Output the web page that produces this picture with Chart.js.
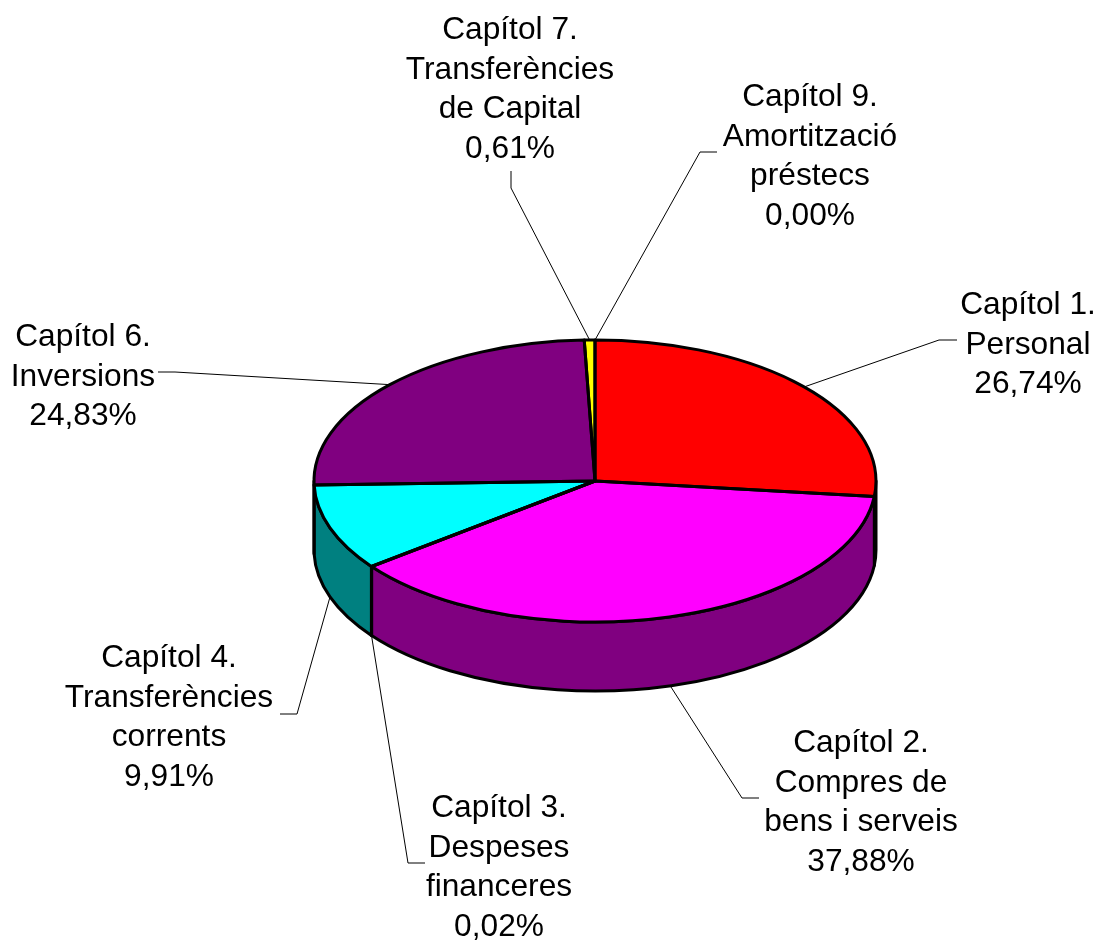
<!DOCTYPE html>
<html>
<head>
<meta charset="utf-8">
<style>
    html, body { margin: 0; padding: 0; background: #fff; }
    canvas { display: block; }
</style>
<script src="https://cdn.jsdelivr.net/npm/chart.js@4/dist/chart.umd.min.js"></script>
</head>
<body>
<canvas id="myChart" width="1099" height="940"></canvas>
<script>
// 1. DATA
const categories = [
    ['Capítol 1.', 'Personal'],
    ['Capítol 2.', 'Compres de', 'bens i serveis'],
    ['Capítol 3.', 'Despeses', 'financeres'],
    ['Capítol 4.', 'Transferències', 'corrents'],
    ['Capítol 6.', 'Inversions'],
    ['Capítol 7.', 'Transferències', 'de Capital'],
    ['Capítol 9.', 'Amortització', 'préstecs']
];
const shares = [26.74, 37.88, 0.02, 9.91, 24.83, 0.61, 0.00];
const topColors = ['#ff0000', '#ff00ff', '#00ff00', '#00ffff', '#800080', '#ffff00', '#008000'];
const sideColors = ['#800000', '#800080', '#008000', '#008080', '#400040', '#808000', '#004000'];

// 2. LABEL LAYOUT (centre of text block, first baseline, leader elbow, leader end)
const labelPlaces = [
    { x: 1028, y: 314, elbow: [939, 340], end: [957, 340] },
    { x: 861,  y: 752, elbow: [742, 798], end: [759, 798] },
    { x: 499,  y: 817, elbow: [408, 863], end: [425, 863] },
    { x: 169,  y: 667, elbow: [297, 714], end: [280, 714] },
    { x: 83,   y: 346, elbow: [175, 372], end: [158, 372] },
    { x: 510,  y: 39,  elbow: [511, 188], end: [511, 171] },
    { x: 810,  y: 106, elbow: [700, 152], end: [717, 152] }
];

const SQUASH = 141 / 281;
const DEPTH = 69;
const LINE_HEIGHT = 39.5;

// 3. 3D PIE PLUGIN
function arcParts(chart) {
    return chart.getDatasetMeta(0).data;
}

const pie3d = {
    id: 'pie3d',
    beforeDatasetsDraw(chart) {
        const ctx = chart.ctx;
        const arcs = arcParts(chart);
        const cx = arcs[0].x, cy = arcs[0].y, rx = arcs[0].outerRadius, ry = rx * SQUASH;

        // side wall, only the part of each slice facing the viewer
        ctx.save();
        ctx.lineWidth = 3;
        ctx.lineJoin = 'round';
        ctx.strokeStyle = '#000';
        arcs.forEach((arc, i) => {
            const a0 = Math.max(arc.startAngle, 0);
            const a1 = Math.min(arc.endAngle, Math.PI);
            if (a1 <= a0) return;
            ctx.beginPath();
            ctx.ellipse(cx, cy, rx, ry, 0, a0, a1);
            ctx.lineTo(cx + rx * Math.cos(a1), cy + ry * Math.sin(a1) + DEPTH);
            ctx.ellipse(cx, cy + DEPTH, rx, ry, 0, a1, a0, true);
            ctx.closePath();
            ctx.fillStyle = sideColors[i];
            ctx.fill();
            ctx.stroke();
        });
        ctx.restore();

        // the library's own arcs get squashed into the top ellipse
        ctx.save();
        ctx.translate(cx, cy);
        ctx.scale(1, SQUASH);
        ctx.translate(-cx, -cy);
    },
    afterDatasetsDraw(chart) {
        const ctx = chart.ctx;
        ctx.restore();

        const arcs = arcParts(chart);
        const cx = arcs[0].x, cy = arcs[0].y, rx = arcs[0].outerRadius, ry = rx * SQUASH;

        // outlines stroked unscaled so the pen stays even
        ctx.save();
        ctx.lineWidth = 3;
        ctx.lineJoin = 'round';
        ctx.strokeStyle = '#000';
        arcs.forEach((arc) => {
            if (arc.endAngle <= arc.startAngle) return;
            ctx.beginPath();
            ctx.moveTo(cx, cy);
            ctx.ellipse(cx, cy, rx, ry, 0, arc.startAngle, arc.endAngle);
            ctx.closePath();
            ctx.stroke();
        });
        ctx.restore();

        // leaders and labels
        ctx.save();
        ctx.font = '31.7px "Liberation Sans", Arial, sans-serif';
        ctx.textAlign = 'center';
        ctx.textBaseline = 'alphabetic';
        arcs.forEach((arc, i) => {
            const mid = (arc.startAngle + arc.endAngle) / 2;
            const place = labelPlaces[i];
            let ax = cx + rx * Math.cos(mid);
            let ay = cy + ry * Math.sin(mid);
            if (Math.sin(mid) > 0) ay += DEPTH;

            ctx.beginPath();
            ctx.moveTo(ax, ay);
            ctx.lineTo(place.elbow[0], place.elbow[1]);
            ctx.lineTo(place.end[0], place.end[1]);
            ctx.lineWidth = 1;
            ctx.strokeStyle = '#000';
            ctx.stroke();

            const lines = categories[i].concat(shares[i].toFixed(2).replace('.', ',') + '%');
            ctx.fillStyle = '#000';
            lines.forEach((line, n) => {
                ctx.fillText(line, place.x, place.y + n * LINE_HEIGHT);
            });
        });
        ctx.restore();
    }
};

// 4. CHART.JS INITIALIZATION
new Chart(document.getElementById('myChart').getContext('2d'), {
    type: 'pie',
    data: {
        labels: categories,
        datasets: [{
            data: shares,
            backgroundColor: topColors,
            borderWidth: 0
        }]
    },
    options: {
        responsive: false,
        animation: false,
        radius: 281,
        layout: { padding: { left: 91, top: 22 } },
        plugins: { legend: { display: false }, tooltip: { enabled: false } }
    },
    plugins: [pie3d]
});
</script>
</body>
</html>
